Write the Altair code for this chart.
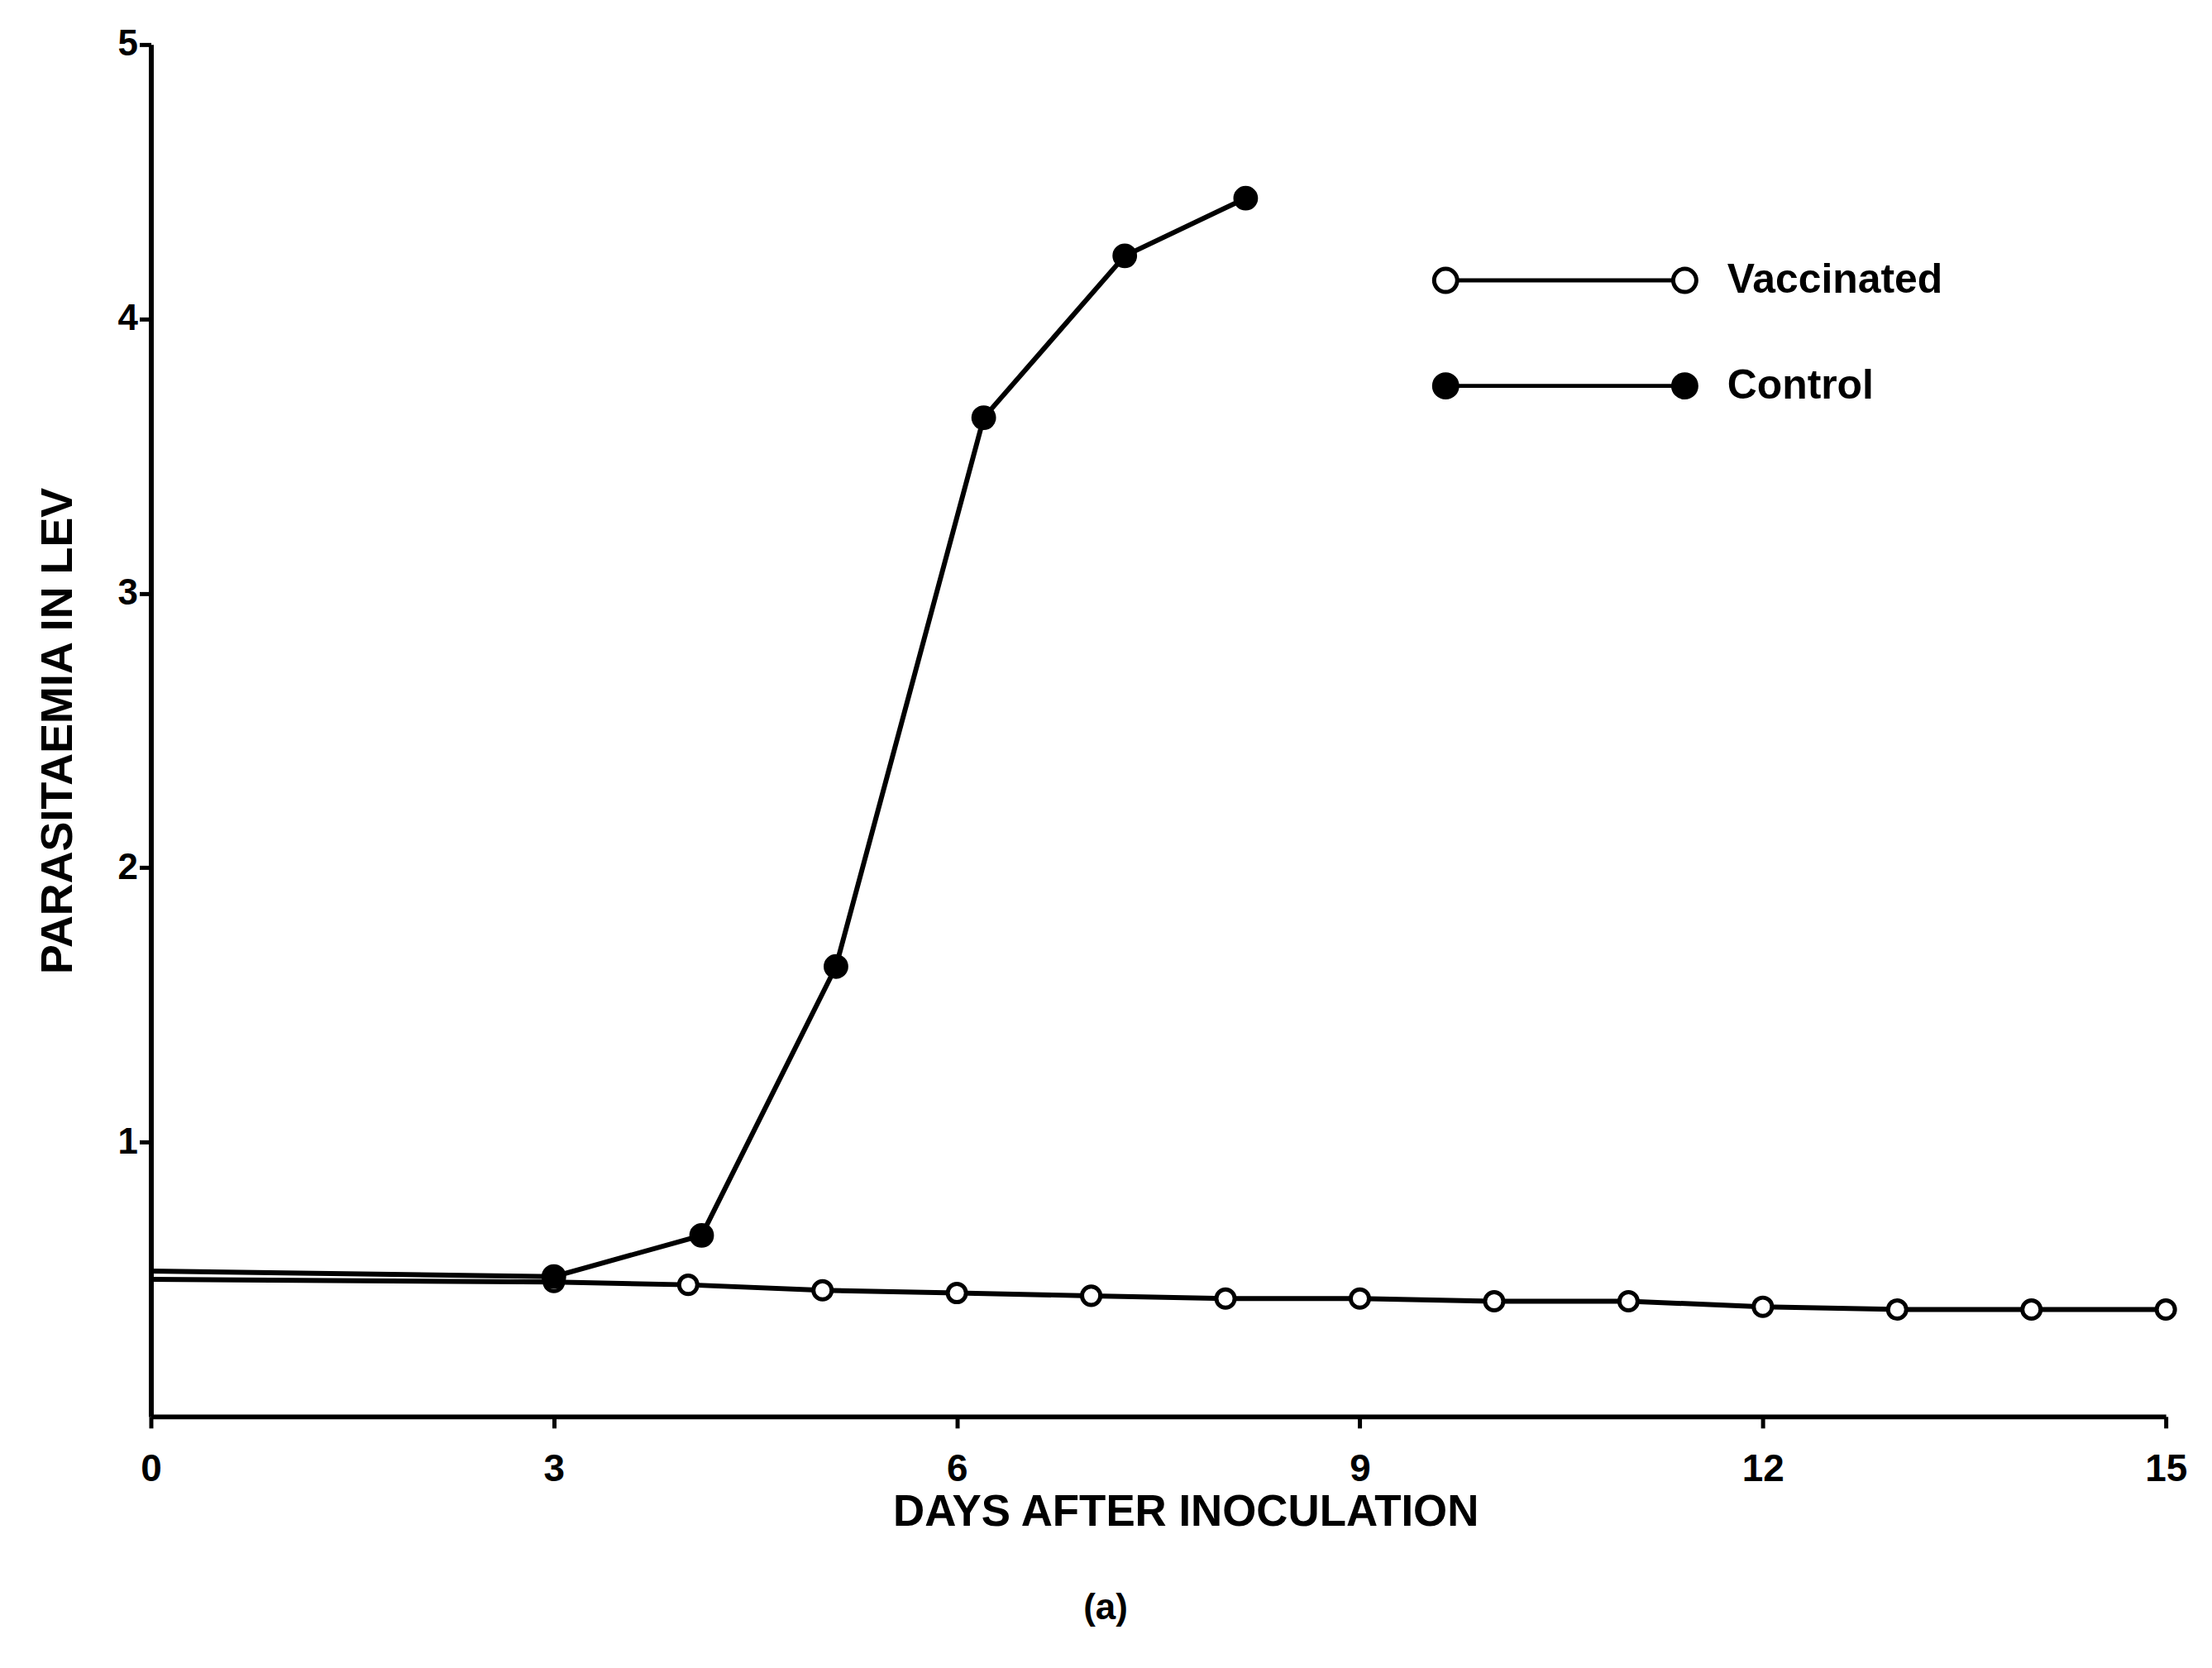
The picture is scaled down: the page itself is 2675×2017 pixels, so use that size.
import altair as alt
import pandas as pd

# ---- data ----
series_names = ["Vaccinated", "Control"]
vacc_days = [0, 3, 4, 5, 6, 7, 8, 9, 10, 11, 12, 13, 14, 15]
vacc_values = [0.50, 0.49, 0.48, 0.46, 0.45, 0.44, 0.43, 0.43, 0.42, 0.42, 0.40, 0.39, 0.39, 0.39]
ctrl_days = [0, 3, 4.1, 5.1, 6.2, 7.25, 8.15]
ctrl_values = [0.53, 0.51, 0.66, 1.64, 3.64, 4.23, 4.44]
x_ticks = [0, 3, 6, 9, 12, 15]
y_ticks = [1, 2, 3, 4, 5]

rows = [{"series": series_names[0], "day": d, "value": v} for d, v in zip(vacc_days, vacc_values)]
rows += [{"series": series_names[1], "day": d, "value": v} for d, v in zip(ctrl_days, ctrl_values)]
df = pd.DataFrame(rows)

FONT = "Liberation Sans"
W, H = 2444, 1664

# legend symbol: circle - line - circle
r = 0.0966
legend_path = (
    f"M {-1 + r:.4f} 0 A {r} {r} 0 1 0 {-1 - r:.4f} 0 A {r} {r} 0 1 0 {-1 + r:.4f} 0 Z "
    f"M {-1 + r:.4f} 0 L {1 - r:.4f} 0 "
    f"M {1 + r:.4f} 0 A {r} {r} 0 1 0 {1 - r:.4f} 0 A {r} {r} 0 1 0 {1 + r:.4f} 0 Z"
)

x_enc = alt.X(
    "day:Q",
    scale=alt.Scale(domain=[0, 15], nice=False, zero=False),
    axis=alt.Axis(
        values=x_ticks,
        title="DAYS AFTER INOCULATION",
        grid=False,
        domainColor="black",
        domainWidth=6,
        tickColor="black",
        tickWidth=5,
        tickSize=14,
        labelFont=FONT,
        labelFontSize=46,
        labelFontWeight="bold",
        labelColor="black",
        labelPadding=28,
        labelFlush=False,
        titleFont=FONT,
        titleFontSize=53,
        titleFontWeight="bold",
        titleColor="black",
        titleX=1255,
        titleY=116,
        titleBaseline="middle",
        titleAlign="center",
    ),
)
y_enc = alt.Y(
    "value:Q",
    scale=alt.Scale(domain=[0, 5], nice=False),
    axis=alt.Axis(
        values=y_ticks,
        title="PARASITAEMIA IN LEV",
        grid=False,
        domainColor="black",
        domainWidth=6,
        tickColor="black",
        tickWidth=5,
        tickSize=14,
        labelFont=FONT,
        labelFontSize=44,
        labelFontWeight="bold",
        labelColor="black",
        labelPadding=2,
        titleFont=FONT,
        titleFontSize=54,
        titleFontWeight="bold",
        titleColor="black",
        titleAngle=-90,
        titleX=-112,
        titleY=H / 2,
        titleBaseline="middle",
        titleAlign="center",
    ),
)

base = alt.Chart(df)

lines = base.mark_line(color="black", strokeWidth=6).encode(
    x=x_enc, y=y_enc, detail="series:N", order="day:Q"
)

points = (
    base.mark_point(shape="circle", filled=True, stroke="black", strokeWidth=5, opacity=1)
    .encode(
        x=x_enc,
        y=y_enc,
        fill=alt.Fill(
            "series:N",
            scale=alt.Scale(domain=series_names, range=["white", "black"]),
            legend=alt.Legend(
                title=None,
                orient="none",
                legendX=1548,
                legendY=246,
                padding=0,
                symbolType=legend_path,
                symbolSize=84100,
                symbolStrokeColor="black",
                symbolStrokeWidth=5,
                symbolOpacity=1,
                symbolOffset=20,
                clipHeight=80,
                labelFont=FONT,
                labelFontSize=50,
                labelFontWeight="bold",
                labelColor="black",
                labelOffset=49,
                labelLimit=0,
                labelBaseline="middle",
                rowPadding=48,
            ),
        ),
        size=alt.condition("datum.series == 'Control'", alt.value(620), alt.value(490)),
    )
    .transform_filter("datum.day > 0")
)

chart = (
    alt.layer(lines, points)
    .properties(
        width=W,
        height=H,
        view=alt.ViewBackground(stroke="transparent", strokeWidth=0),
        autosize=alt.AutoSizeParams(type="none"),
        padding={"left": 175, "top": 43, "right": 48, "bottom": 294},
        title=alt.TitleParams(
            text="(a)",
            orient="bottom",
            anchor="middle",
            frame="group",
            font=FONT,
            fontSize=44,
            fontWeight="bold",
            color="black",
            offset=68,
            dx=-64,
        ),
    )
    .configure_view(stroke="transparent", strokeWidth=0)
    .configure_axis(gridOpacity=0)
    .configure(
        background="white",
        style={"cell": {"stroke": "transparent", "strokeWidth": 0}},
    )
)

chart.save("out.html", embed_options={"renderer": "svg", "actions": False})
